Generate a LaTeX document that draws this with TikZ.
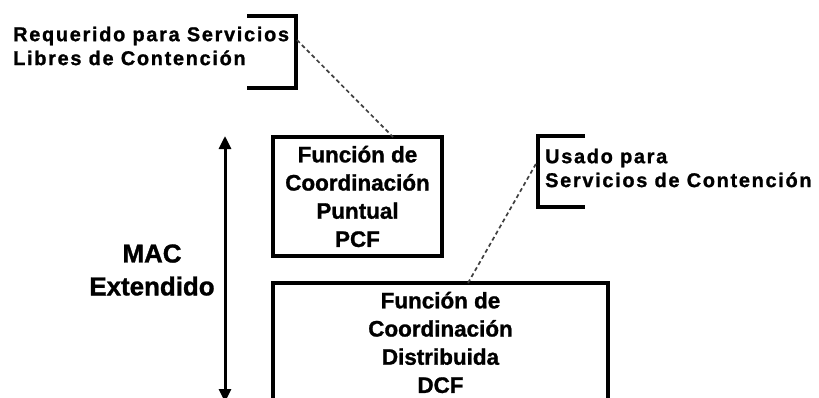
\documentclass[tikz,border=0pt]{standalone}
\usepackage{fontspec}
\setmainfont{Liberation Sans}[BoldFeatures={FakeBold=1.2}]
\newfontfamily\notefont{Liberation Sans Bold}[LetterSpace=8.5,FakeBold=1.2]
\usepackage{tikz}
\usetikzlibrary{arrows.meta}

\begin{document}
\begin{tikzpicture}[x=1bp,y=-1bp]
	 \tikzstyle{note}=[inner sep=0pt, align=left, font=\notefont\fontsize{20}{24}\selectfont]
	 \tikzstyle{func}=[draw, line width=3.2bp, inner sep=0pt, minimum width=169bp, minimum height=119bp, align=center, font=\bfseries\fontsize{22.5}{28.3}\selectfont]
	 \tikzstyle{bracket}=[draw, line width=3.2bp]
	 \tikzstyle{leader}=[draw, gray!50!black, line width=1.7bp, dash pattern=on 4bp off 3bp]
	 \tikzstyle{span}=[draw, line width=3bp, {Triangle[length=13bp,width=12bp]}-{Triangle[length=13bp,width=12bp]}]
	 \useasboundingbox (0,0) rectangle (819,397);
	 \node[note, anchor=west] (req) at (13,46) {Requerido para Servicios\\Libres de Contención};
	 \node[note, anchor=west] (usado) at (545,168) {Usado para\\Servicios de Contención};
	 \node[note, align=center, font=\bfseries\fontsize{26}{33}\selectfont] (mac) at (152,270) {MAC\\Extendido};
	 \node[func] (pcf) at (357.5,196.5) {Función de\\Coordinación\\Puntual\\PCF};
	 \node[func, minimum width=335bp] (dcf) at (440.5,342.5) {Función de\\Coordinación\\Distribuida\\DCF};
	 \coordinate (r1) at (297,40);
	 \coordinate (r2) at (393,137);
	 \coordinate (u1) at (537,162);
	 \coordinate (u2) at (468,283);
	 \coordinate (top) at (225,136);
	 \coordinate (bot) at (225,402);
	 \draw[bracket] (247,16) -| (296,88) -- (247,88);
	 \draw[bracket] (585,136) -| (538,207) -- (585,207);
	 \draw[leader] (r1) -- (r2);
	 \draw[leader] (u2) -- (u1);
	 \draw[span] (top) -- (bot);
 \end{tikzpicture}
\end{document}
